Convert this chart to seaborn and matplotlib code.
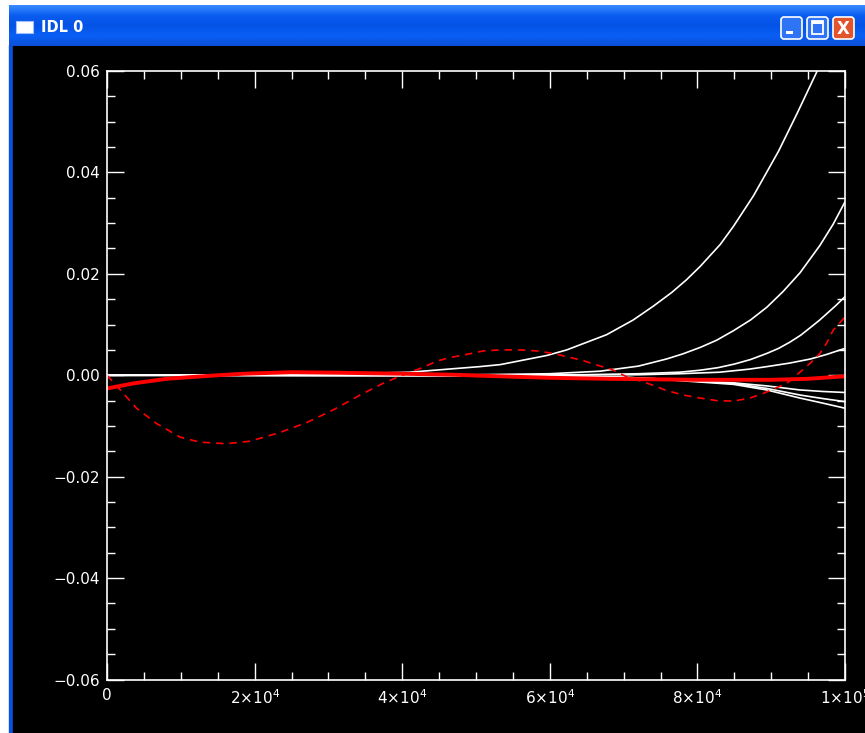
import matplotlib
matplotlib.use("Agg")
import numpy as np
import matplotlib.pyplot as plt
import seaborn as sns
from matplotlib.colors import LinearSegmentedColormap
from matplotlib.patches import Rectangle, FancyBboxPatch
from matplotlib.ticker import MultipleLocator

# x values are in units of 1e5
c1_x = [0, 0.2, 0.3, 0.41, 0.505, 0.533, 0.596, 0.623, 0.677, 0.713, 0.74, 0.765, 0.785, 0.804, 0.831, 0.849,
        0.876, 0.910, 0.935, 0.962, 0.98, 1.0]
c1_y = [0, 0.00005, 0.0002, 0.0006, 0.0017, 0.0021, 0.0039, 0.0050, 0.0080, 0.0109, 0.0136, 0.0163, 0.0188, 0.0215,
        0.0258, 0.0294, 0.0354, 0.0442, 0.0516, 0.0599, 0.0662, 0.0730]

c2_x = [0, 0.5, 0.6, 0.668, 0.72, 0.758, 0.78, 0.804, 0.826, 0.849, 0.872, 0.894, 0.916, 0.939, 0.966, 0.984, 1.0]
c2_y = [0, 0.0001, 0.0003, 0.0008, 0.0018, 0.0032, 0.0042, 0.0055, 0.0069, 0.0088, 0.0109, 0.0134, 0.0165, 0.0202,
        0.0256, 0.0298, 0.0342]

c3_x = [0, 0.65, 0.72, 0.776, 0.804, 0.828, 0.85, 0.872, 0.894, 0.91, 0.925, 0.94, 0.953, 0.965, 0.975, 0.988, 1.0]
c3_y = [0, 0.0001, 0.0003, 0.0006, 0.0010, 0.0015, 0.0022, 0.0031, 0.0043, 0.0053, 0.0065, 0.0079, 0.0094, 0.0108,
        0.0121, 0.0138, 0.0155]

c4_x = [0, 0.72, 0.776, 0.83, 0.87, 0.894, 0.925, 0.953, 0.975, 1.0]
c4_y = [0, 0.0001, 0.0003, 0.0006, 0.0012, 0.0017, 0.0024, 0.0032, 0.0041, 0.0053]

neg_x = [0, 0.6, 0.7, 0.76, 0.8, 0.849, 0.894, 0.939, 0.97, 1.0]
neg1_y = [0, -0.0001, -0.0004, -0.0008, -0.0011, -0.0015, -0.0021, -0.0029, -0.0032, -0.0034]
neg2_y = [0, -0.0001, -0.0004, -0.0008, -0.0012, -0.0016, -0.0026, -0.0039, -0.0046, -0.0052]
neg3_y = [0, -0.0001, -0.0005, -0.0009, -0.0013, -0.0018, -0.0029, -0.0045, -0.0055, -0.0065]

red_x = [0, 0.036, 0.081, 0.12, 0.15, 0.185, 0.25, 0.31, 0.40, 0.47, 0.53, 0.60, 0.68, 0.80, 0.90, 0.95, 1.0]
red_y = [-0.0026, -0.0016, -0.0007, -0.0003, 0.0, 0.0003, 0.0006, 0.0005, 0.0003, 0.0001, -0.0002, -0.0005, -0.0007,
         -0.0009, -0.0009, -0.0007, -0.0002]

dash_x = [0, 0.018, 0.040, 0.067, 0.099, 0.126, 0.162, 0.194, 0.234, 0.271, 0.307, 0.343, 0.374, 0.395,
          0.411, 0.429, 0.447, 0.465, 0.487, 0.51, 0.533, 0.56, 0.582, 0.605, 0.625, 0.645, 0.664, 0.685,
          0.704, 0.727, 0.742, 0.758, 0.781, 0.804, 0.826, 0.849, 0.871, 0.889, 0.921, 0.939, 0.953, 0.966,
          0.975, 0.984, 1.0]
dash_y = [0, -0.0029, -0.0065, -0.0095, -0.0122, -0.0132, -0.0135, -0.0130, -0.0113, -0.0093, -0.0068, -0.0039, -0.0016,
          -0.0003, 0.0006, 0.0016, 0.0028, 0.0035, 0.0041, 0.0048, 0.0050, 0.0050, 0.0048, 0.0043, 0.0036, 0.0029,
          0.0020, 0.0011, -0.0003, -0.0013, -0.0021, -0.0030, -0.0039, -0.0045, -0.0050, -0.0051, -0.0045, -0.0036,
          -0.0016, 0.0006, 0.0024, 0.0043, 0.0063, 0.0089, 0.0115]

x_ticks = [0, 2e4, 4e4, 6e4, 8e4, 1e5]
x_labels = ['0', r'$2{\times}10^{4}$', r'$4{\times}10^{4}$', r'$6{\times}10^{4}$', r'$8{\times}10^{4}$',
            r'$1{\times}10^{5}$']
y_ticks = [-0.06, -0.04, -0.02, 0.0, 0.02, 0.04, 0.06]
y_labels = ['\u22120.06', '\u22120.04', '\u22120.02', '0.00', '0.02', '0.04', '0.06']

sns.set_theme(style="ticks")
plt.rcParams['font.family'] = ['DejaVu Sans']
plt.rcParams['mathtext.default'] = 'regular'

W, H = 865, 733
fig = plt.figure(figsize=(W / 100, H / 100), dpi=100, facecolor='white')

# window frame: blue border and black client area (behind the axes)
fig.patches.append(Rectangle((9 / W, 0), 1, 1 - 45 / H, transform=fig.transFigure,
                             color='#0A52DE', zorder=-10))
fig.patches.append(Rectangle((13 / W, 0), 1, 1 - 45 / H, transform=fig.transFigure,
                             color='black', zorder=-9))

# title bar
tb = fig.add_axes([9 / W, 1 - 46 / H, (W - 9) / W, 41 / H])
cmap = LinearSegmentedColormap.from_list('xp', ['#3A8CFF', '#0A5CF0', '#0453E6', '#0A5FF5', '#0A50D8'])
grad = np.linspace(0, 1, 64).reshape(-1, 1)
tb.imshow(grad, aspect='auto', cmap=cmap, extent=[9, W, 46, 5])
tb.set_xlim(9, W)
tb.set_ylim(46, 5)
tb.axis('off')
tb.add_patch(Rectangle((16, 21), 17, 12, facecolor='white', edgecolor='#9EC0FF', lw=0.8))
tb.text(41, 28, 'IDL 0', color='white', fontsize=10.5, fontweight='bold', va='center', ha='left')
for bx, fc in [(781, '#2F74F5'), (807, '#2F74F5'), (833, '#E2542C')]:
    tb.add_patch(FancyBboxPatch((bx, 17), 21, 22, boxstyle='round,pad=0,rounding_size=3',
                                facecolor=fc, edgecolor='white', lw=1.2))
tb.add_patch(Rectangle((786, 31), 7, 3, facecolor='white', lw=0))
tb.add_patch(Rectangle((812, 21), 11, 13, facecolor='none', edgecolor='white', lw=1.3))
tb.add_patch(Rectangle((812, 21), 11, 3, facecolor='white', lw=0))
tb.text(843.5, 28.5, 'X', color='white', fontsize=12, fontweight='bold', ha='center', va='center')

# plot area
ax = fig.add_axes([107 / W, (H - 679.5) / H, 738 / W, 608.5 / H])
ax.set_facecolor('black')

for xs, ys in [(c1_x, c1_y), (c2_x, c2_y), (c3_x, c3_y), (c4_x, c4_y),
               (neg_x, neg1_y), (neg_x, neg2_y), (neg_x, neg3_y)]:
    sns.lineplot(x=np.array(xs) * 1e5, y=ys, ax=ax, color='white', lw=1.2, estimator=None)
sns.lineplot(x=np.array(red_x) * 1e5, y=red_y, ax=ax, color='#FF0000', lw=2.8, estimator=None)
sns.lineplot(x=np.array(dash_x) * 1e5, y=dash_y, ax=ax, color='#FF0000', lw=1.2, estimator=None,
             linestyle=(0, (4.5, 3.5)))

ax.set_xlim(0, 1e5)
ax.set_ylim(-0.06, 0.06)
ax.set_xticks(x_ticks)
ax.set_xticklabels(x_labels)
ax.set_yticks(y_ticks)
ax.set_yticklabels(y_labels)
ax.xaxis.set_minor_locator(MultipleLocator(5000))
ax.yaxis.set_minor_locator(MultipleLocator(0.005))
ax.tick_params(which='both', direction='in', top=True, right=True, color='white',
               labelcolor='white', width=1)
ax.tick_params(which='major', length=12, labelsize=11)
ax.tick_params(which='minor', length=6)
ax.tick_params(axis='y', pad=5)
ax.tick_params(axis='x', pad=6)
for s in ax.spines.values():
    s.set_color('white')
    s.set_linewidth(1.2)
ax.set_xlabel('')
ax.set_ylabel('')

fig.savefig('out.png', dpi=100, facecolor=fig.get_facecolor())
